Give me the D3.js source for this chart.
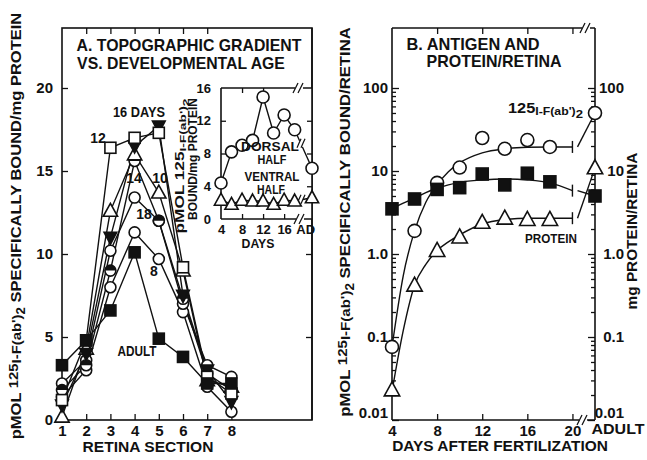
<!DOCTYPE html>
<html>
<head>
<meta charset="utf-8">
<script src="https://cdn.jsdelivr.net/npm/d3@7"></script>
<style>
  body { margin: 0; background: #fff; }
  text { font-family: "Liberation Sans", Arial, sans-serif; font-weight: bold; fill: #111; }
</style>
</head>
<body>
<svg id="chart" width="647" height="460"></svg>
<script>
// ---- panel A: binding per retina section, one series per age ----
const sections = [1, 2, 3, 4, 5, 6, 7, 8];
const day8   = [1.4, 3.0, 8.0, 11.3, 9.7, 6.5, 2.0, 0.5];
const day10  = [0.2, 4.3, 12.6, 16.0, 13.7, 9.0, 2.4, 2.0];
const day12  = [1.2, 4.8, 16.4, 17.0, 17.3, 9.2, 2.6, 1.6];
const day14  = [2.2, 3.6, 10.2, 13.4, 12.0, 7.0, 3.3, 2.6];
const day16  = [0.9, 4.0, 11.0, 16.5, 17.7, 7.5, 3.0, 1.1];
const day18  = [1.8, 3.3, 9.0, 15.6, 12.0, 7.3, 2.8, 1.8];
const adultA = [3.3, 4.8, 6.6, 10.1, 4.9, 3.8, 2.2, 2.2];
const sectionTicks = [1, 2, 3, 4, 5, 6, 7, 8];
const boundTicks = [0, 5, 10, 15, 20];

// ---- inset: dorsal vs ventral half ----
const insetDays = [4, 6, 8, 10, 12, 14, 16, 18, "AD"];
const dorsal  = [4.4, 8.2, 9.0, 9.6, 14.9, 10.5, 12.7, 10.9, 6.2];
const ventral = [2.3, 1.8, 2.3, 2.2, 2.2, 1.8, 2.3, 2.2, 2.6];
const insetYTicks = [0, 4, 8, 12, 16];
const insetXTicks = [4, 8, 12, 16];

// ---- panel B: per retina vs days after fertilization ----
const bDays = [4, 6, 8, 10, 12, 14, 16, 18];
const antibodyB = [0.076, 1.9, 7.2, 11, 25, 18.5, 23.6, 19.5];
const antigenB  = [3.5, 4.6, 6.0, 6.3, 9.2, 6.8, 9.4, 7.4];
const proteinB  = [0.023, 0.42, 1.1, 1.6, 2.4, 2.7, 2.6, 2.6];
const adultAntibody = 50, adultAntigen = 5.0, adultProtein = 10.9;
const fitDays     = [4, 5, 6, 7, 8, 9, 10, 12, 14, 16, 18, 20];
const fitAntibody = [0.076, 0.55, 1.9, 4.2, 6.8, 9.8, 12.5, 16.5, 18.5, 19.3, 19.5, 19.5];
const fitAntigen  = [3.5, 4.1, 4.7, 5.5, 6.2, 6.8, 7.3, 7.8, 8.0, 7.8, 7.2, 5.8];
const fitProtein  = [0.022, 0.12, 0.42, 0.75, 1.1, 1.4, 1.7, 2.3, 2.6, 2.7, 2.7, 2.7];
const logTicks = [0.01, 0.1, 1, 10, 100];
const logTickLabels = ["0.01", "0.1", "1.0", "10", "100"];
const dayTicks = [4, 8, 12, 16, 20];

const ink = "#111";
const svg = d3.select("#chart");
svg.append("rect").attr("width", 647).attr("height", 460).attr("fill", "#fff");

// text helper: parts = [string, sizeFactor, dy]; squeezes to width if given
function txt(x, y, parts, o) {
    const g = svg.append("g")
        .attr("transform", `translate(${x},${y})` + (o.rotate ? ` rotate(${o.rotate})` : ""));
    const t = g.append("text")
        .attr("font-size", o.size)
        .attr("text-anchor", o.anchor || "middle")
        .attr("dy", o.dy == null ? "0.35em" : o.dy);
    if (typeof parts === "string") parts = [[parts]];
    parts.forEach(p => t.append("tspan").text(p[0])
        .attr("font-size", o.size * (p[1] || 1)).attr("dy", p[2] || 0));
    if (o.width) {
        const w = t.node().getComputedTextLength();
        t.attr("transform", `scale(${o.width / w},1)`);
    }
    return t;
}

function line(x1, y1, x2, y2, w) {
    svg.append("line").attr("x1", x1).attr("y1", y1).attr("x2", x2).attr("y2", y2)
        .attr("stroke", ink).attr("stroke-width", w || 1.6);
}

function brk(x, y) {
    svg.append("rect").attr("x", x - 4).attr("y", y - 3).attr("width", 8).attr("height", 6).attr("fill", "#fff");
    line(x - 6, y + 5, x - 1, y - 5, 1.3);
    line(x - 1, y + 5, x + 4, y - 5, 1.3);
}

function axisTicks(tx, ty, axis, scale, values, size) {
    const g = svg.append("g").attr("transform", `translate(${tx},${ty})`)
        .call(axis(scale).tickValues(values).tickSize(size).tickFormat(""));
    g.select(".domain").remove();
    g.selectAll("line").attr("stroke", ink).attr("stroke-width", 1.3);
    return g;
}

function axisLabels(tx, ty, axis, scale, values, fmt, pad, fs) {
    const g = svg.append("g").attr("transform", `translate(${tx},${ty})`)
        .call(axis(scale).tickValues(values).tickSize(0).tickPadding(pad).tickFormat(fmt));
    g.select(".domain").remove();
    g.attr("font-size", fs).attr("font-family", null);
    return g;
}

function symbol(type, x, y, s) {
    const r = s / 2;
    if (type === "circle" || type === "circleHalf") {
        svg.append("circle").attr("cx", x).attr("cy", y).attr("r", r)
            .attr("fill", "#fff").attr("stroke", ink).attr("stroke-width", 1.6);
        if (type === "circleHalf")
            svg.append("path").attr("d", `M${x - r},${y} A${r},${r} 0 0 1 ${x + r},${y} Z`).attr("fill", ink);
    } else if (type === "square" || type === "squareFilled") {
        svg.append("rect").attr("x", x - r).attr("y", y - r).attr("width", s).attr("height", s)
            .attr("fill", type === "square" ? "#fff" : ink).attr("stroke", ink).attr("stroke-width", 1.6);
    } else if (type === "tri") {
        svg.append("path").attr("d", `M${x},${y - s * 0.58} L${x + r * 1.1},${y + s * 0.42} L${x - r * 1.1},${y + s * 0.42} Z`)
            .attr("fill", "#fff").attr("stroke", ink).attr("stroke-width", 1.6);
    } else if (type === "triDown") {
        svg.append("path").attr("d", `M${x},${y + s * 0.55} L${x + r},${y - s * 0.4} L${x - r},${y - s * 0.4} Z`)
            .attr("fill", ink).attr("stroke", ink).attr("stroke-width", 1.4);
    }
}

// =============== PANEL A ===============
const xA = d3.scaleLinear().domain([1, 11.33]).range([62, 312]);
const yA = d3.scaleLinear().domain([0, 20]).range([420, 88]);

axisTicks(62, 0, d3.axisLeft, yA, boundTicks, -6);
axisTicks(312, 0, d3.axisRight, yA, [5, 10], -6);
axisTicks(0, 420, d3.axisBottom, xA, sectionTicks.slice(1), -6);
axisTicks(0, 28, d3.axisTop, xA, [2, 3, 4, 5, 6, 7], -6);
axisLabels(62, 0, d3.axisLeft, yA, boundTicks, d => d, 9, 15);
axisLabels(0, 420, d3.axisBottom, xA, sectionTicks, d => d, 5, 15);
svg.append("rect").attr("x", 62).attr("y", 28).attr("width", 250).attr("height", 392)
    .attr("fill", "none").attr("stroke", ink).attr("stroke-width", 1.6);

const ageSeries = [
    {values: day8, sym: "circle"},
    {values: day14, sym: "circle"},
    {values: day18, sym: "circleHalf"},
    {values: day10, sym: "tri"},
    {values: day16, sym: "triDown"},
    {values: day12, sym: "square"},
    {values: adultA, sym: "squareFilled"}
];
const lineA = d3.line().x((d, i) => xA(sections[i])).y(d => yA(d));
ageSeries.forEach(s => {
    svg.append("path").attr("d", lineA(s.values)).attr("fill", "none")
        .attr("stroke", ink).attr("stroke-width", 1.4);
});
ageSeries.forEach(s => {
    s.values.forEach((v, i) => symbol(s.sym, xA(sections[i]), yA(v), s.sym.startsWith("tri") ? 13 : 11));
});

txt(189, 51, "A. TOPOGRAPHIC GRADIENT", {size: 16, width: 225});
txt(181, 69, "VS. DEVELOPMENTAL AGE", {size: 16, width: 208});
txt(98, 143, "12", {size: 14});
txt(139, 117, "16 DAYS", {size: 14, width: 52});
txt(160, 183, "10", {size: 14});
txt(134, 183, "14", {size: 14});
txt(144, 219, "18", {size: 14});
txt(154, 276, "8", {size: 14});
txt(137, 356, "ADULT", {size: 14, width: 39});
txt(148, 452, "RETINA SECTION", {size: 15, width: 131});
txt(21, 226, [["pMOL "], ["125", 0.9, -3], ["I-F(ab')", 0.9, 3], ["2", 0.8, 4], [" SPECIFICALLY BOUND/mg PROTEIN", 1, -4]],
    {size: 15, width: 427, rotate: -90});

// ---- inset ----
const xIn = d3.scaleLinear().domain([4, 21.3]).range([221, 312]);
const yIn = d3.scaleLinear().domain([0, 16]).range([219, 88]);
const inX = d => xIn(d === "AD" ? 21.3 : d);

svg.append("rect").attr("x", 221).attr("y", 88).attr("width", 91).attr("height", 131).attr("fill", "#fff");
axisTicks(221, 0, d3.axisLeft, yIn, [4, 8, 12], -5);
axisTicks(312, 0, d3.axisRight, yIn, [4, 8, 12], -5);
axisTicks(0, 219, d3.axisBottom, xIn, [8, 12, 16], -5);
axisTicks(0, 88, d3.axisTop, xIn, [8, 12], -5);
line(221, 88, 312, 88);
line(221, 88, 221, 219);
line(221, 219, 312, 219);
line(312, 28, 312, 420);
brk(299, 88);
brk(300, 219);
axisLabels(221, 0, d3.axisLeft, yIn, insetYTicks, d => d, 10, 13);
axisLabels(0, 219, d3.axisBottom, xIn, insetXTicks.concat([20]), d => d === 20 ? "AD" : d, 6, 13);

const lineIn = d3.line().x((d, i) => inX(insetDays[i])).y(d => yIn(d));
[dorsal, ventral].forEach(vals => {
    svg.append("path").attr("d", lineIn(vals)).attr("fill", "none").attr("stroke", ink).attr("stroke-width", 1.4);
    // break slashes on the segment to the adult point
    const xa = inX(18), xb = inX("AD"), ya = yIn(vals[7]), yb = yIn(vals[8]);
    const t = (301 - xa) / (xb - xa), yy = ya + t * (yb - ya);
    svg.append("rect").attr("x", 299).attr("y", yy - 3).attr("width", 4).attr("height", 6).attr("fill", "#fff");
    line(297, yy + 4, 301, yy - 5, 1.2);
    line(301, yy + 4, 305, yy - 5, 1.2);
});
dorsal.forEach((v, i) => symbol("circle", inX(insetDays[i]), yIn(v), 12));
ventral.forEach((v, i) => symbol("tri", inX(insetDays[i]), yIn(v), 12));

txt(270, 151, "DORSAL", {size: 12, width: 58});
txt(272, 164, "HALF", {size: 12, width: 29});
txt(272, 181, "VENTRAL", {size: 12, width: 55});
txt(271, 194, "HALF", {size: 12, width: 28});
txt(258, 248, "DAYS", {size: 13, width: 33});
txt(184, 166, [["pMOL "], ["125", 1, 0], ["I-F(ab')", 0.8, 2], ["2", 0.8, 3]], {size: 12, width: 135, rotate: -90});
txt(197, 159, "BOUND/mg PROTEIN", {size: 12, width: 122, rotate: -90});

// =============== PANEL B ===============
const xB = d3.scaleLinear().domain([4, 22]).range([392, 595]);
const yB = d3.scaleLog().domain([0.01, 100]).range([420, 88]);
const minor = yB.ticks().filter(v => Math.abs(Math.log10(v) - Math.round(Math.log10(v))) > 1e-6);

axisTicks(392, 0, d3.axisLeft, yB, logTicks, -7);
axisTicks(392, 0, d3.axisLeft, yB, minor, -4);
axisTicks(595, 0, d3.axisRight, yB, logTicks, -7);
axisTicks(595, 0, d3.axisRight, yB, minor, -4);
axisTicks(0, 420, d3.axisBottom, xB, [8, 12, 16, 20], -6);
axisTicks(0, 28, d3.axisTop, xB, [8, 12, 16, 20], -6);
line(392, 28, 392, 420);
line(595, 28, 595, 420);
line(392, 28, 595, 28);
line(392, 420, 595, 420);
brk(586, 28);
brk(583, 420);
const leftB = axisLabels(392, 0, d3.axisLeft, yB, logTicks, (d, i) => logTickLabels[i], 4, 15);
const rightB = axisLabels(595, 0, d3.axisRight, yB, logTicks, (d, i) => logTickLabels[i], 4, 15);
rightB.selectAll("text").attr("text-anchor", "end").attr("x", 29);
// bottom labels sit a little above the 0.01 tick, as in the print
[leftB, rightB].forEach(g => g.selectAll("text").filter(d => d === 0.01).attr("y", -7));
axisLabels(0, 420, d3.axisBottom, xB, dayTicks, d => d, 5, 15);

const fitLine = d3.line().x(d => xB(d[0])).y(d => yB(d[1])).curve(d3.curveMonotoneX);
const groupsB = [
    {pts: antibodyB, fit: fitAntibody, adult: adultAntibody, sym: "circle", size: 13},
    {pts: antigenB, fit: fitAntigen, adult: adultAntigen, sym: "squareFilled", size: 12},
    {pts: proteinB, fit: fitProtein, adult: adultProtein, sym: "tri", size: 14}
];
groupsB.forEach(gr => {
    const fitPts = fitDays.map((d, i) => [d, gr.fit[i]]);
    svg.append("path").attr("d", fitLine(fitPts)).attr("fill", "none").attr("stroke", ink).attr("stroke-width", 1.4);
    const yEnd = yB(gr.fit[gr.fit.length - 1]);
    line(xB(20), yEnd - 6, xB(20), yEnd + 6, 1.4);
    line(xB(20.45), yEnd, xB(22), yB(gr.adult), 1.4);
});
groupsB.forEach(gr => {
    gr.pts.forEach((v, i) => symbol(gr.sym, xB(bDays[i]), yB(v), gr.size));
    symbol(gr.sym, xB(22), yB(gr.adult), gr.size);
});

txt(473, 50, "B. ANTIGEN AND", {size: 16, width: 133});
txt(494, 67, "PROTEIN/RETINA", {size: 16, width: 135});
txt(508, 113, [["125"], ["I-F(ab')", 0.75, 2], ["2", 0.8, 3]], {size: 14, width: 75, anchor: "start"});
txt(551, 243, "PROTEIN", {size: 12, width: 52});
txt(500, 451, "DAYS AFTER FERTILIZATION", {size: 15, width: 216});
txt(618, 434, "ADULT", {size: 15, width: 53});
txt(350, 222, [["pMOL "], ["125", 0.9, -3], ["I-F(ab')", 0.9, 3], ["2", 0.8, 4], [" SPECIFICALLY BOUND/RETINA", 1, -4]],
    {size: 15, width: 390, rotate: -90});
txt(637, 231, "mg PROTEIN/RETINA", {size: 15, width: 157, rotate: -90});
</script>
</body>
</html>
